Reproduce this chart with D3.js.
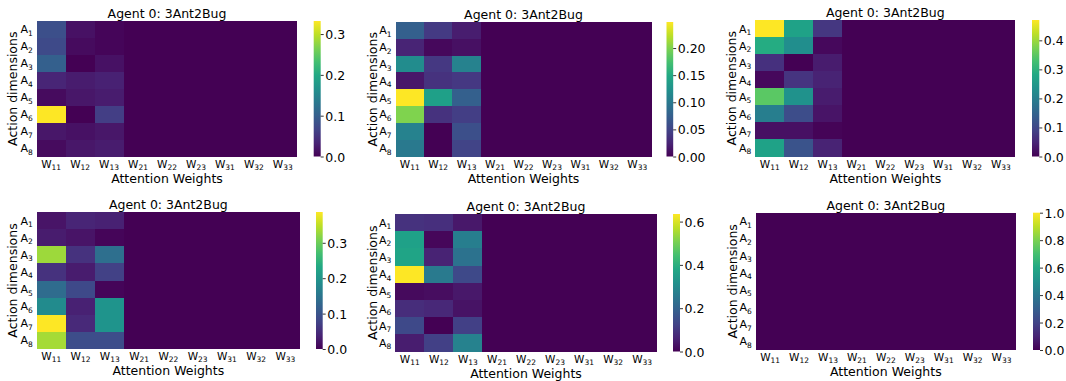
<!DOCTYPE html>
<html>
<head>
<meta charset="utf-8">
<script src="https://cdn.jsdelivr.net/npm/d3@7"></script>
<style>
  body { margin: 0; background: #fff; }
  text { font-family: "DejaVu Sans", sans-serif; fill: #000; }
</style>
</head>
<body>
<div id="wrapper"></div>
<script>
const rowLabels = ['1', '2', '3', '4', '5', '6', '7', '8']
const colLabels = ['11', '12', '13', '21', '22', '23', '31', '32', '33']
const title = 'Agent 0: 3Ant2Bug'

// attention weights, rows A1..A8, columns W11..W33
const weights1 = [
    [0.080, 0.015, 0.005, 0, 0, 0, 0, 0, 0],
    [0.075, 0.010, 0.005, 0, 0, 0, 0, 0, 0],
    [0.100, 0.000, 0.015, 0, 0, 0, 0, 0, 0],
    [0.035, 0.025, 0.030, 0, 0, 0, 0, 0, 0],
    [0.010, 0.020, 0.025, 0, 0, 0, 0, 0, 0],
    [0.332, 0.000, 0.060, 0, 0, 0, 0, 0, 0],
    [0.020, 0.015, 0.020, 0, 0, 0, 0, 0, 0],
    [0.010, 0.020, 0.025, 0, 0, 0, 0, 0, 0]
]
const weights2 = [
    [0.075, 0.042, 0.020, 0, 0, 0, 0, 0, 0],
    [0.025, 0.005, 0.010, 0, 0, 0, 0, 0, 0],
    [0.120, 0.040, 0.110, 0, 0, 0, 0, 0, 0],
    [0.015, 0.035, 0.040, 0, 0, 0, 0, 0, 0],
    [0.248, 0.140, 0.075, 0, 0, 0, 0, 0, 0],
    [0.200, 0.035, 0.045, 0, 0, 0, 0, 0, 0],
    [0.110, 0.000, 0.060, 0, 0, 0, 0, 0, 0],
    [0.100, 0.000, 0.050, 0, 0, 0, 0, 0, 0]
]
const weights3 = [
    [0.470, 0.270, 0.075, 0, 0, 0, 0, 0, 0],
    [0.290, 0.230, 0.010, 0, 0, 0, 0, 0, 0],
    [0.065, 0.000, 0.035, 0, 0, 0, 0, 0, 0],
    [0.010, 0.070, 0.045, 0, 0, 0, 0, 0, 0],
    [0.350, 0.240, 0.035, 0, 0, 0, 0, 0, 0],
    [0.200, 0.110, 0.025, 0, 0, 0, 0, 0, 0],
    [0.020, 0.020, 0.005, 0, 0, 0, 0, 0, 0],
    [0.270, 0.120, 0.045, 0, 0, 0, 0, 0, 0]
]
const weights4 = [
    [0.020, 0.040, 0.035, 0, 0, 0, 0, 0, 0],
    [0.030, 0.020, 0.005, 0, 0, 0, 0, 0, 0],
    [0.330, 0.055, 0.140, 0, 0, 0, 0, 0, 0],
    [0.055, 0.030, 0.075, 0, 0, 0, 0, 0, 0],
    [0.135, 0.085, 0.005, 0, 0, 0, 0, 0, 0],
    [0.185, 0.035, 0.200, 0, 0, 0, 0, 0, 0],
    [0.387, 0.045, 0.200, 0, 0, 0, 0, 0, 0],
    [0.335, 0.090, 0.090, 0, 0, 0, 0, 0, 0]
]
const weights5 = [
    [0.090, 0.085, 0.040, 0, 0, 0, 0, 0, 0],
    [0.360, 0.010, 0.270, 0, 0, 0, 0, 0, 0],
    [0.370, 0.060, 0.240, 0, 0, 0, 0, 0, 0],
    [0.635, 0.260, 0.140, 0, 0, 0, 0, 0, 0],
    [0.015, 0.020, 0.040, 0, 0, 0, 0, 0, 0],
    [0.080, 0.070, 0.030, 0, 0, 0, 0, 0, 0],
    [0.140, 0.000, 0.120, 0, 0, 0, 0, 0, 0],
    [0.050, 0.120, 0.280, 0, 0, 0, 0, 0, 0]
]
const weights6 = [
    [0, 0, 0, 0, 0, 0, 0, 0, 0],
    [0, 0, 0, 0, 0, 0, 0, 0, 0],
    [0, 0, 0, 0, 0, 0, 0, 0, 0],
    [0, 0, 0, 0, 0, 0, 0, 0, 0],
    [0, 0, 0, 0, 0, 0, 0, 0, 0],
    [0, 0, 0, 0, 0, 0, 0, 0, 0],
    [0, 0, 0, 0, 0, 0, 0, 0, 0],
    [0, 0, 0, 0, 0, 0, 0, 0, 0]
]

const colorMax = [0.332, 0.248, 0.47, 0.387, 0.635, 1.0]
const colorTicks = [
    [0, 0.1, 0.2, 0.3],
    [0, 0.05, 0.10, 0.15, 0.20],
    [0, 0.1, 0.2, 0.3, 0.4],
    [0, 0.1, 0.2, 0.3],
    [0, 0.2, 0.4, 0.6],
    [0, 0.2, 0.4, 0.6, 0.8, 1.0]
]
const tickFormats = ['.1f', '.2f', '.1f', '.1f', '.1f', '.1f']
const allWeights = [weights1, weights2, weights3, weights4, weights5, weights6]

// panel layout: heatmap box, colorbar x range, y-title x
const layout = [
    { x0: 36.7, x1: 297.3, y0: 21, y1: 156.5, cb0: 313.7, cb1: 320.7, yt: 13 },
    { x0: 395.5, x1: 651.5, y0: 22, y1: 156.5, cb0: 666.5, cb1: 673.2, yt: 373 },
    { x0: 755.3, x1: 1015.3, y0: 20, y1: 156.5, cb0: 1032, cb1: 1039.3, yt: 732 },
    { x0: 36.7, x1: 300, y0: 212, y1: 349, cb0: 316, cb1: 322.7, yt: 13 },
    { x0: 395.3, x1: 656.7, y0: 214, y1: 351.5, cb0: 673, cb1: 680, yt: 373 },
    { x0: 755.7, x1: 1016, y0: 212.7, y1: 350, cb0: 1033, cb1: 1040, yt: 733 }
]

const svg = d3.select('#wrapper')
    .append('svg')
    .attr('width', 1066)
    .attr('height', 381)

const defs = svg.append('defs')

allWeights.forEach((weights, p) => {
    const L = layout[p]
    const g = svg.append('g')

    const xScale = d3.scaleBand().domain(colLabels).range([L.x0, L.x1])
    const yScale = d3.scaleBand().domain(rowLabels).range([L.y0, L.y1])
    const color = d3.scaleSequential(d3.interpolateViridis).domain([0, colorMax[p]])

    const cells = []
    weights.forEach((row, r) => row.forEach((v, c) => cells.push({ r: rowLabels[r], c: colLabels[c], v })))

    g.append('g').selectAll('rect')
        .data(cells)
        .join('rect')
        .attr('x', d => xScale(d.c))
        .attr('y', d => yScale(d.r))
        .attr('width', d => xScale.bandwidth() + (d.c === '33' ? 0 : 1))
        .attr('height', d => yScale.bandwidth() + (d.r === '8' ? 0 : 1))
        .attr('fill', d => color(d.v))
        .attr('shape-rendering', 'crispEdges')

    // title
    g.append('text')
        .attr('x', (L.x0 + L.x1) / 2)
        .attr('y', L.y0 - 3)
        .attr('text-anchor', 'middle')
        .style('font-size', '12.5px')
        .text(title)

    // row tick labels
    const rowText = g.append('g').selectAll('text')
        .data(rowLabels)
        .join('text')
        .attr('x', L.x0 - 4)
        .attr('y', d => yScale(d) + yScale.bandwidth() / 2 + 4)
        .attr('text-anchor', 'end')
        .style('font-size', '11px')
    rowText.append('tspan').text('A')
    rowText.append('tspan').attr('dy', 2.5).style('font-size', '7.5px').text(d => d)

    // column tick labels
    const colText = g.append('g').selectAll('text')
        .data(colLabels)
        .join('text')
        .attr('x', d => xScale(d) + xScale.bandwidth() / 2)
        .attr('y', L.y1 + 11)
        .attr('text-anchor', 'middle')
        .style('font-size', '10.5px')
    colText.append('tspan').text('W')
    colText.append('tspan').attr('dy', 2).style('font-size', '7.5px').text(d => d)

    g.append('text')
        .attr('x', (L.x0 + L.x1) / 2)
        .attr('y', L.y1 + 26)
        .attr('text-anchor', 'middle')
        .style('font-size', '12.5px')
        .text('Attention Weights')

    g.append('text')
        .attr('transform', `translate(${L.yt + 4}, ${(L.y0 + L.y1) / 2}) rotate(-90)`)
        .attr('text-anchor', 'middle')
        .style('font-size', '12.5px')
        .text('Action dimensions')

    // colorbar
    const gradId = 'grad' + p
    const grad = defs.append('linearGradient')
        .attr('id', gradId)
        .attr('x1', 0).attr('y1', 1).attr('x2', 0).attr('y2', 0)
    d3.range(0, 1.0001, 0.1).forEach(t => {
        grad.append('stop').attr('offset', t).attr('stop-color', d3.interpolateViridis(t))
    })

    const cbScale = d3.scaleLinear().domain([0, colorMax[p]]).range([L.y1, L.y0])
    g.append('rect')
        .attr('x', L.cb0)
        .attr('y', L.y0)
        .attr('width', L.cb1 - L.cb0)
        .attr('height', L.y1 - L.y0)
        .attr('fill', `url(#${gradId})`)

    const cbAxis = d3.axisRight(cbScale)
        .tickValues(colorTicks[p])
        .tickFormat(d3.format(tickFormats[p]))
        .tickSize(3)
        .tickPadding(1.5)
    const ax = g.append('g')
        .attr('transform', `translate(${L.cb1}, 0)`)
        .call(cbAxis)
    ax.select('.domain').remove()
    ax.selectAll('text')
        .style('font-size', '12.5px')
        .style('font-family', '"DejaVu Sans", sans-serif')
        .attr('fill', '#000')
        .attr('dy', '0.36em')
    ax.selectAll('line').attr('stroke', '#000').attr('stroke-width', 0.8)
})
</script>
</body>
</html>
